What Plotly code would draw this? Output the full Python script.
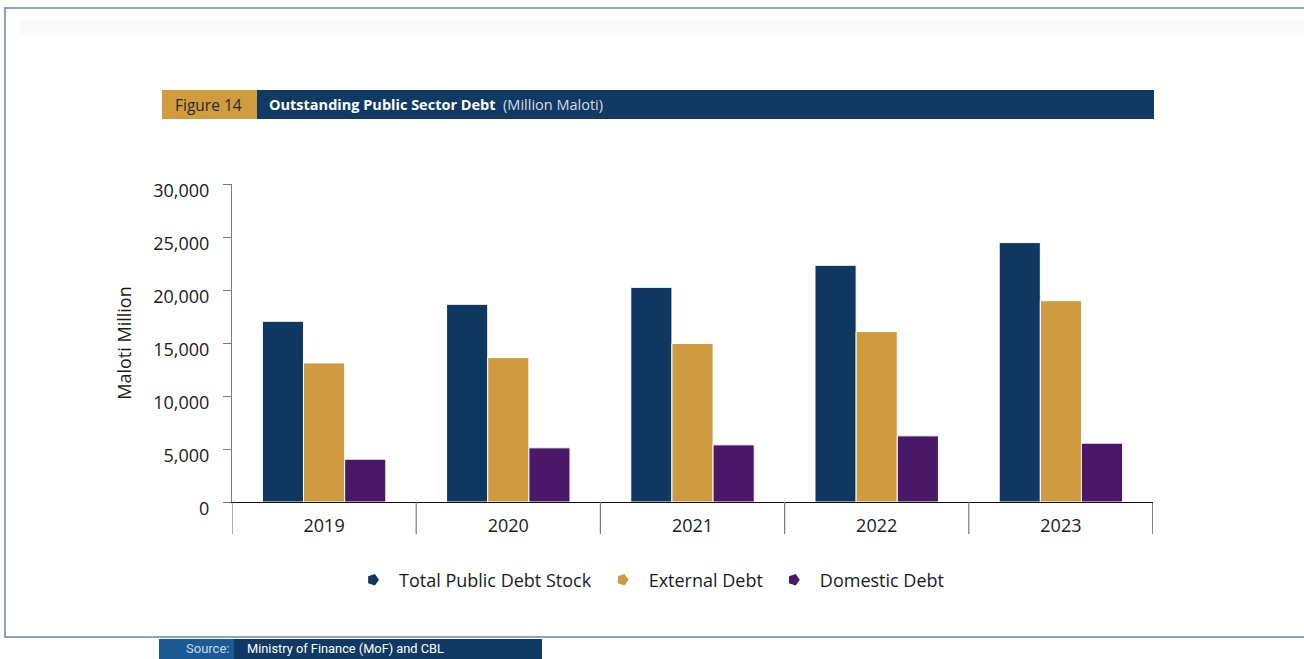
import plotly.graph_objects as go

years = ["2019", "2020", "2021", "2022", "2023"]
total_debt = [17050, 18650, 20250, 22330, 24470]
external_debt = [13120, 13620, 14950, 16080, 18990]
domestic_debt = [4040, 5110, 5390, 6240, 5550]
series_names = ["Total Public Debt Stock", "External Debt", "Domestic Debt"]
y_ticks = [0, 5000, 10000, 15000, 20000, 25000, 30000]
y_tick_labels = ["0", "5,000", "10,000", "15,000", "20,000", "25,000", "30,000"]

NAVY = "#10375f"
GOLD = "#cf9b41"
PURPLE = "#4a1866"
colors = [NAVY, GOLD, PURPLE]

W, H = 1304, 659
L, R, T, B = 232, 1153, 184, 502
FONT = "Open Sans, Noto Sans, sans-serif"
NARROW = "Liberation Sans Narrow, Roboto, sans-serif"


def px(x):
    return (x - L) / (R - L)


def py(y):
    return (B - y) / (B - T)


fig = go.Figure()
for name, vals, c in zip(series_names, [total_debt, external_debt, domestic_debt], colors):
    fig.add_trace(go.Bar(x=years, y=vals, name=name, marker=dict(color=c, line=dict(color="white", width=1)),
                         showlegend=False))
    fig.add_trace(go.Scatter(x=[None], y=[None], mode="markers", name=name,
                             marker=dict(symbol="pentagon", angle=90, size=12, color=c)))

shapes = []
# soft shadow band inside frame
shapes.append(dict(type="rect", xref="paper", yref="paper", x0=px(20), x1=px(1320), y0=py(20), y1=py(34),
                   line=dict(width=0), fillcolor="#fafafa", layer="below"))
# outer frame
shapes.append(dict(type="rect", xref="paper", yref="paper", x0=px(5), x1=px(1320), y0=py(8), y1=py(637),
                   line=dict(color="#6a86a5", width=1.5), fillcolor="rgba(0,0,0,0)", layer="below"))
# header bars
shapes.append(dict(type="rect", xref="paper", yref="paper", x0=px(162), x1=px(257), y0=py(90), y1=py(119),
                   line=dict(width=0), fillcolor="#d19b3f"))
shapes.append(dict(type="rect", xref="paper", yref="paper", x0=px(257), x1=px(1154), y0=py(90), y1=py(119),
                   line=dict(width=0), fillcolor="#103a63"))
# source bar
shapes.append(dict(type="rect", xref="paper", yref="paper", x0=px(159), x1=px(234), y0=py(639), y1=py(662),
                   line=dict(width=0), fillcolor="#1c5a94"))
shapes.append(dict(type="rect", xref="paper", yref="paper", x0=px(234), x1=px(542), y0=py(639), y1=py(662),
                   line=dict(width=0), fillcolor="#103a63"))
# category separators
for i in range(len(years) + 1):
    shapes.append(dict(type="line", xref="x", yref="paper", x0=i - 0.5, x1=i - 0.5, y0=py(534), y1=0,
                       line=dict(color="#333333" if i == len(years) else "#7a7a7a", width=1.2)))

annotations = [
    dict(text="Figure 14", x=px(173), y=py(104.5), xref="paper", yref="paper", xanchor="left", yanchor="middle",
         showarrow=False, font=dict(family=FONT, size=15.5, color="#2a2a2a")),
    dict(text="<b>Outstanding Public Sector Debt</b>&nbsp; <span style='color:#d8dde6'>(Million Maloti)</span>",
         x=px(267), y=py(104.5), xref="paper", yref="paper", xanchor="left", yanchor="middle",
         showarrow=False, font=dict(family=FONT, size=14.5, color="white")),
    dict(text="Source:", x=px(231), y=py(648), xref="paper", yref="paper", xanchor="right", yanchor="middle",
         showarrow=False, font=dict(family=NARROW, size=13, color="#c9d6e6")),
    dict(text="Ministry of Finance (MoF) and CBL", x=px(245), y=py(648), xref="paper", yref="paper",
         xanchor="left", yanchor="middle", showarrow=False, font=dict(family=NARROW, size=12.8, color="white")),
]

fig.update_layout(
    width=W, height=H,
    margin=dict(l=L, r=W - R, t=T, b=H - B, pad=0),
    paper_bgcolor="white", plot_bgcolor="white",
    barmode="group", bargap=0.33, bargroupgap=0.0,
    font=dict(family=FONT, size=18, color="#1a1a1a"),
    shapes=shapes, annotations=annotations,
    legend=dict(orientation="h", x=px(648), xanchor="center", y=py(580), yanchor="middle",
                font=dict(family=FONT, size=18, color="#1a1a1a"), itemwidth=42, tracegroupgap=0),
    xaxis=dict(showgrid=False, showline=True, linecolor="#111111", linewidth=1.2, ticks="",
               tickfont=dict(family=FONT, size=18, color="#1a1a1a"), ticklabelstandoff=7,
               range=[-0.5, len(years) - 0.5]),
    yaxis=dict(range=[0, 30000], tickvals=y_ticks, ticktext=y_tick_labels, showgrid=False,
               showline=True, linecolor="#7a7a7a", linewidth=1.2, ticks="outside", ticklen=8,
               tickcolor="#7a7a7a", tickfont=dict(family=FONT, size=18, color="#1a1a1a"),
               ticklabelstandoff=10, ticklabelshift=7, zeroline=False,
               title=dict(text="Maloti Million", font=dict(family=FONT, size=18, color="#1a1a1a"), standoff=16)),
)

fig.write_html("out.html", config={"displayModeBar": False})
with open("out.html", encoding="utf-8") as f:
    html = f.read()
html = html.replace("<head>", "<head><style>html,body{margin:0;padding:0;overflow:hidden;}</style>", 1)
with open("out.html", "w", encoding="utf-8") as f:
    f.write(html)
